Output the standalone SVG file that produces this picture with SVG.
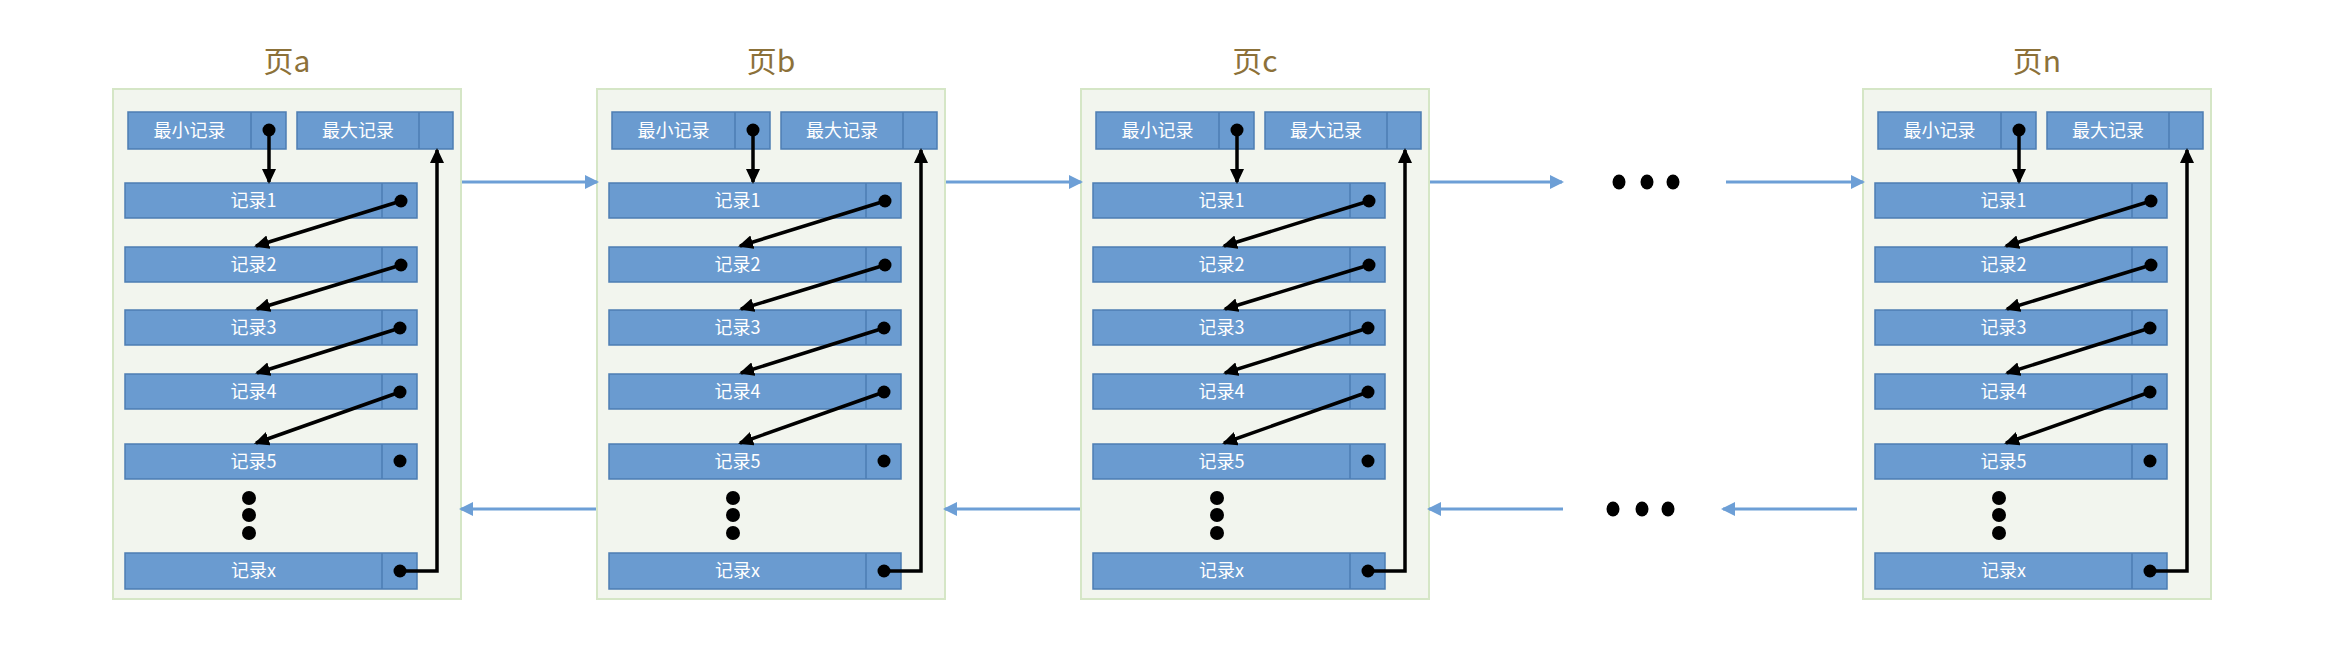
<svg xmlns="http://www.w3.org/2000/svg" xmlns:xlink="http://www.w3.org/1999/xlink" width="2340" height="650" viewBox="0 0 2340 650">
<defs>
<style>
.frame{fill:#f2f5ee;stroke:#d5e6c6;stroke-width:2}
.box{fill:#6a9bd0;stroke:#4d7db3;stroke-width:1.5}
.div{stroke:#4d7db3;stroke-width:1.5}
.lbl{font-family:"Noto Sans CJK SC","Noto Sans",sans-serif;font-size:18px;fill:#ffffff;text-anchor:middle}
.title{font-family:"Noto Sans CJK SC","Noto Sans",sans-serif;font-size:30px;fill:#8c7139;text-anchor:middle}
.dot{fill:#000000}
.blk{fill:none;stroke:#000000;stroke-width:3.5;marker-end:url(#ab)}
.blu{fill:none;stroke:#6d9fd6;stroke-width:3;marker-end:url(#au)}
</style>
<marker id="ab" markerUnits="userSpaceOnUse" markerWidth="15" markerHeight="14" viewBox="0 0 15 14" refX="13" refY="7" orient="auto">
<path d="M0,0 L15,7 L0,14 z" fill="#000000"/>
</marker>
<marker id="au" markerUnits="userSpaceOnUse" markerWidth="14" markerHeight="14" viewBox="0 0 14 14" refX="12" refY="7" orient="auto">
<path d="M0,0 L14,7 L0,14 z" fill="#6d9fd6"/>
</marker>
<g id="pageTpl">
<rect class="frame" x="113" y="89" width="348" height="510"/>
<rect class="box" x="128" y="112" width="158" height="37"/><line class="div" x1="251" y1="112" x2="251" y2="149"/>
<text class="lbl" x="189.5" y="137">最小记录</text>
<rect class="box" x="297" y="112" width="156" height="37"/><line class="div" x1="419" y1="112" x2="419" y2="149"/>
<text class="lbl" x="358" y="137">最大记录</text>
<rect class="box" x="125" y="183" width="292" height="35"/><line class="div" x1="382" y1="183" x2="382" y2="218"/>
<text class="lbl" x="253.5" y="207">记录1</text>
<rect class="box" x="125" y="247" width="292" height="35"/><line class="div" x1="382" y1="247" x2="382" y2="282"/>
<text class="lbl" x="253.5" y="271">记录2</text>
<rect class="box" x="125" y="310" width="292" height="35"/><line class="div" x1="382" y1="310" x2="382" y2="345"/>
<text class="lbl" x="253.5" y="334">记录3</text>
<rect class="box" x="125" y="374" width="292" height="35"/><line class="div" x1="382" y1="374" x2="382" y2="409"/>
<text class="lbl" x="253.5" y="398">记录4</text>
<rect class="box" x="125" y="444" width="292" height="35"/><line class="div" x1="382" y1="444" x2="382" y2="479"/>
<text class="lbl" x="253.5" y="468">记录5</text>
<rect class="box" x="125" y="553" width="292" height="36"/><line class="div" x1="382" y1="553" x2="382" y2="589"/>
<text class="lbl" x="253.5" y="577">记录x</text>
<circle class="dot" cx="269" cy="130" r="6.5"/>
<circle class="dot" cx="401" cy="201" r="6.5"/>
<circle class="dot" cx="401" cy="265" r="6.5"/>
<circle class="dot" cx="400" cy="328" r="6.5"/>
<circle class="dot" cx="400" cy="392" r="6.5"/>
<circle class="dot" cx="400" cy="461" r="6.5"/>
<circle class="dot" cx="400" cy="571" r="6.5"/>
<circle class="dot" cx="249" cy="498" r="7"/>
<circle class="dot" cx="249" cy="515" r="7"/>
<circle class="dot" cx="249" cy="533" r="7"/>
</g>
<g id="arrTpl">
<path class="blk" d="M269,130 L269,182"/>
<path class="blk" d="M401,201 L256,246"/>
<path class="blk" d="M401,265 L257,309"/>
<path class="blk" d="M400,328 L257,373"/>
<path class="blk" d="M400,392 L256,443"/>
<path class="blk" d="M400,571 L437,571 L437,150"/>
</g>
</defs>
<rect x="0" y="0" width="2340" height="650" fill="#ffffff"/>
<g id="page-a">
<text class="title" x="287" y="72">页a</text>
<use xlink:href="#pageTpl"/>
</g>
<g id="page-b" transform="translate(484,0)">
<text class="title" x="287" y="72">页b</text>
<use xlink:href="#pageTpl"/>
</g>
<g id="page-c" transform="translate(968,0)">
<text class="title" x="287" y="72">页c</text>
<use xlink:href="#pageTpl"/>
</g>
<g id="page-n" transform="translate(1750,0)">
<text class="title" x="287" y="72">页n</text>
<use xlink:href="#pageTpl"/>
</g>
<g id="ellipsis">
<ellipse class="dot" cx="1619" cy="182" rx="6.5" ry="7.5"/>
<ellipse class="dot" cx="1647" cy="182" rx="6.5" ry="7.5"/>
<ellipse class="dot" cx="1673" cy="182" rx="6.5" ry="7.5"/>
<ellipse class="dot" cx="1613" cy="509" rx="6.5" ry="7.5"/>
<ellipse class="dot" cx="1642" cy="509" rx="6.5" ry="7.5"/>
<ellipse class="dot" cx="1668" cy="509" rx="6.5" ry="7.5"/>
</g>
<g id="connectors">
<use xlink:href="#arrTpl"/>
<use xlink:href="#arrTpl" transform="translate(484,0)"/>
<use xlink:href="#arrTpl" transform="translate(968,0)"/>
<use xlink:href="#arrTpl" transform="translate(1750,0)"/>
<path class="blu" d="M462,182 L597,182"/>
<path class="blu" d="M946,182 L1081,182"/>
<path class="blu" d="M1430,182 L1562,182"/>
<path class="blu" d="M1726,182 L1863,182"/>
<path class="blu" d="M596,509 L461,509"/>
<path class="blu" d="M1080,509 L945,509"/>
<path class="blu" d="M1563,509 L1429,509"/>
<path class="blu" d="M1857,509 L1723,509"/>
</g>
</svg>
